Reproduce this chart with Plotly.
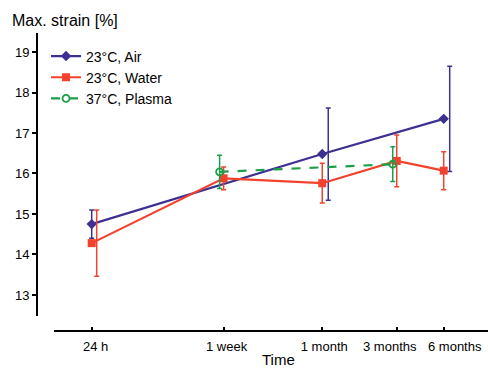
import plotly.graph_objects as go

# ---- data ----
time_labels = ["24 h", "1 week", "1 month", "3 months", "6 months"]
time_days = [1, 7, 30, 90, 180]

air_days = [1, 30, 180]
air_strain = [14.75, 16.48, 17.35]
air_sd = [0.35, 1.14, 1.30]

water_days = [1, 7, 30, 90, 180]
water_strain = [14.28, 15.88, 15.76, 16.31, 16.07]
water_sd = [0.82, 0.28, 0.49, 0.64, 0.47]

plasma_days = [7, 90]
plasma_strain = [16.04, 16.23]
plasma_sd = [0.41, 0.43]

# ---- style ----
W, H = 488, 368
ML, MR, MT, MB = 37, 0, 33, 37
PW, PH = W - ML - MR, H - MT - MB
x_dom0 = 17 / PW
y_dom0 = 15 / PH
x_range = [-0.2415, 2.539]
y_range = [12.48, 19.47]
px_per_decade = PW * (1 - x_dom0) / (x_range[1] - x_range[0])

BLUE = "#3c3191"
RED = "#f2412c"
GREEN = "#1c9e4a"
FONT = "Liberation Sans, Arial, sans-serif"

# pixel shifts (markers / error bars / tick labels), as in the original layout
plasma_shift_px = [-4, -4]
air_err_shift_px = [0, 6, 6]
water_err_shift_px = [5, 0, 0, 0, 0]
label_shift_px = [4, 3, 2, -7, 11]


def shift(days, px):
    return [d * 10 ** (p / px_per_decade) for d, p in zip(days, px)]


fig = go.Figure()

series = [
    ("23°C, Air", air_days, air_strain, air_sd, [0] * 3, air_err_shift_px, BLUE,
     dict(symbol="diamond", size=8, color=BLUE), "solid"),
    ("23°C, Water", water_days, water_strain, water_sd, [0] * 5, water_err_shift_px, RED,
     dict(symbol="square", size=8, color=RED), "solid"),
    ("37°C, Plasma", plasma_days, plasma_strain, plasma_sd, plasma_shift_px, plasma_shift_px, GREEN,
     dict(symbol="circle-open", size=7, color=GREEN, line=dict(width=1.8, color=GREEN)), "dash"),
]

for name, d, y, sd, mshift, eshift, col, mk, dash in series:
    fig.add_trace(go.Scatter(
        x=shift(d, eshift), y=y, mode="markers",
        marker=dict(size=1, color="rgba(0,0,0,0)"),
        error_y=dict(type="data", array=sd, color=col, thickness=1.5, width=2.5),
        showlegend=False, hoverinfo="skip"))
    fig.add_trace(go.Scatter(
        x=shift(d, mshift), y=y, mode="lines+markers", name=name,
        line=dict(color=col, width=2.2, dash=dash),
        marker=mk))

# invisible trace carrying the label axis
fig.add_trace(go.Scatter(x=[time_days[0]], y=[y_range[0]], xaxis="x2", mode="markers",
                         marker=dict(size=1, color="rgba(0,0,0,0)"),
                         showlegend=False, hoverinfo="skip"))

fig.update_layout(
    width=W, height=H,
    margin=dict(l=ML, r=MR, t=MT, b=MB),
    paper_bgcolor="white", plot_bgcolor="white",
    font=dict(family=FONT, size=13, color="black"),
    legend=dict(x=0.02, y=0.975, xanchor="left", yanchor="top",
                font=dict(size=14), itemwidth=30, tracegroupgap=0,
                bgcolor="rgba(0,0,0,0)"),
    xaxis=dict(type="log", range=x_range, domain=[x_dom0, 1],
               anchor="free", position=0,
               tickvals=time_days, showticklabels=False,
               showline=True, linecolor="black", linewidth=2,
               ticks="inside", ticklen=3, tickwidth=1.5, tickcolor="black",
               showgrid=False, zeroline=False),
    xaxis2=dict(type="log", range=x_range, domain=[x_dom0, 1],
                overlaying="x", anchor="free", position=0, side="bottom",
                tickvals=shift(time_days, label_shift_px), ticktext=time_labels,
                tickangle=0, ticks="", showline=False, showgrid=False, zeroline=False,
                ticklabelstandoff=6, tickfont=dict(size=13)),
    yaxis=dict(range=y_range, domain=[y_dom0, 1],
               anchor="free", position=0,
               tickvals=[13, 14, 15, 16, 17, 18, 19],
               showline=True, linecolor="black", linewidth=2,
               ticks="outside", ticklen=4, tickwidth=1.5, tickcolor="black",
               showgrid=False, zeroline=False,
               tickfont=dict(size=13)),
    annotations=[
        dict(text="Max. strain [%]", xref="paper", yref="paper",
             x=(10 - ML) / PW, y=(H - MB - 20) / PH, xanchor="left", yanchor="middle",
             showarrow=False, font=dict(size=16)),
        dict(text="Time", xref="paper", yref="paper",
             x=(278 - ML) / PW, y=(H - MB - 359) / PH, xanchor="center", yanchor="middle",
             showarrow=False, font=dict(size=15)),
    ],
)

fig.write_html("out.html")
